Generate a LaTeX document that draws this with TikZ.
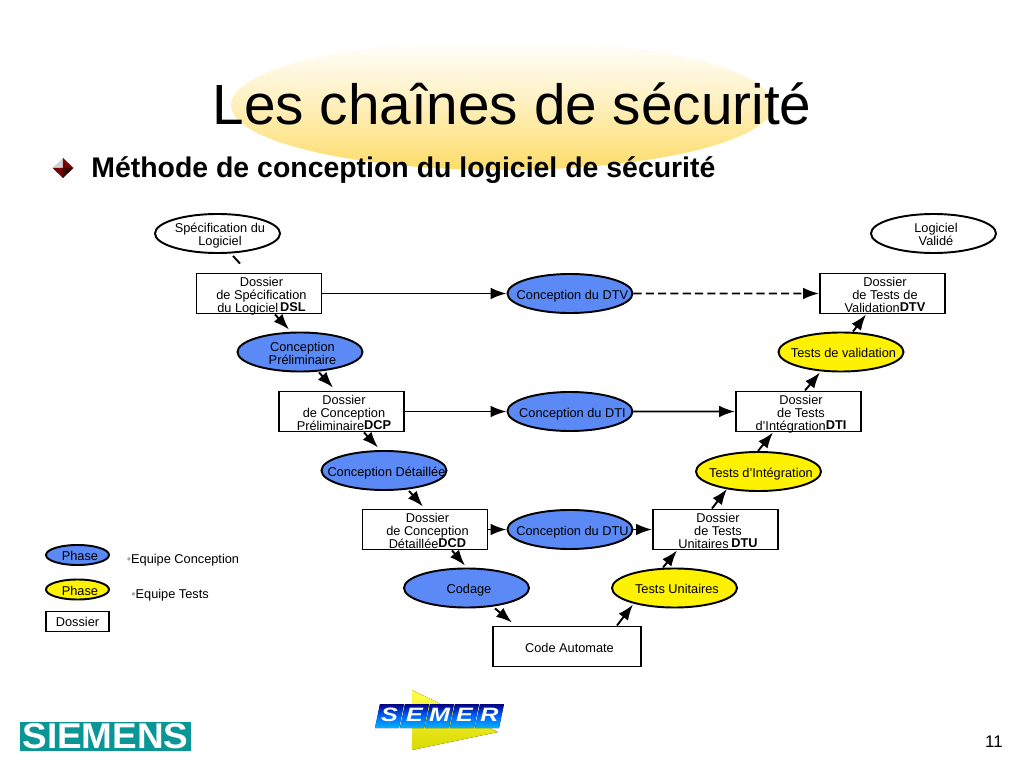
\documentclass[tikz,border=0pt]{standalone}
\usepackage{fontspec}
\setmainfont{Liberation Sans}
\usetikzlibrary{arrows.meta,positioning,calc,shapes.geometric}
\definecolor{phaseblue}{RGB}{91,137,245}
\definecolor{halogold}{RGB}{253,220,105}
\definecolor{siemensteal}{RGB}{10,150,150}
\tikzset{
	on grid,
	flow/.style = {-{Latex[length=9pt,width=6.6pt]}, line width=1.1pt},
	flowdash/.style = {flow, dash pattern=on 4.6pt off 2.4pt},
	dossier/.style = {rectangle, draw, line width=1.1pt, fill=white, inner sep=0pt, minimum width=2.5cm, minimum height=.8cm, align=center, font=\fontsize{7.27}{7.37}\selectfont},
	phase/.style = {ellipse, draw, line width=1.1pt, fill=phaseblue, inner sep=0pt, minimum width=2.5cm, minimum height=.78cm, align=center, font=\fontsize{7.27}{7.37}\selectfont},
	tests/.style = {phase, fill=yellow},
	jalon/.style = {phase, fill=white},
	legend/.style = {font=\fontsize{7.27}{7.37}\selectfont, inner sep=0pt}
}
\newcommand{\ltx}[1]{\makebox[0pt]{\hspace{2.8pt}\raisebox{-1.3pt}[.72em][.2em]{#1}}}
\newcommand{\sigle}[1]{\raisebox{.4pt}{\bfseries #1}}
\begin{document}
\begin{tikzpicture}
	\useasboundingbox (0,0) rectangle (20.48,-15.36);
	% en-tete
	\node[ellipse, minimum width=10.84cm, minimum height=2.6cm, inner sep=0pt, top color=white, bottom color=halogold, middle color=halogold!45] (halo) at (10.04,-2.1) {};
	\node[anchor=base, inner sep=0pt, font=\fontsize{32.27}{34}\selectfont] (titre) at (10.24,-2.5) {Les chaînes de sécurité};
	\node[anchor=base west, inner sep=0pt, font=\fontsize{16.18}{18}\selectfont\bfseries] (soustitre) at (1.82,-3.56) {Méthode de conception du logiciel de sécurité};
	\fill[gray!35] (1.05,-3.36) -- (1.26,-3.16) -- (1.26,-3.36) -- cycle;
	\fill[red!50!black] (1.26,-3.16) -- (1.47,-3.36) -- (1.26,-3.36) -- cycle;
	\fill[red!45!black] (1.05,-3.36) -- (1.26,-3.36) -- (1.26,-3.56) -- cycle;
	\fill[red!20!black] (1.26,-3.36) -- (1.47,-3.36) -- (1.26,-3.56) -- cycle;
	% branche conception
	\node[jalon] (spec) at (4.35,-4.67) {\ltx{Spécification du}\\ \ltx{Logiciel}};
	\node[dossier] (dsl) [below right=1.2 and .83 of spec] {\ltx{Dossier}\\ \ltx{de Spécification}\\ \ltx{du Logiciel\hspace{1pt}\sigle{DSL}}};
	\node[phase] (cp) [below right=1.17 and .82 of dsl] {\ltx{Conception}\\ \ltx{Préliminaire}};
	\node[dossier] (dcp) [below right=1.19 and .83 of cp] {\ltx{Dossier}\\ \ltx{de Conception}\\ \ltx{Préliminaire\sigle{DCP}}};
	\node[phase] (cd) [below right=1.18 and .85 of dcp] {\ltx{Conception Détaillée}};
	\node[dossier] (dcd) [below right=1.18 and .82 of cd] {\ltx{Dossier}\\ \ltx{de Conception}\\ \ltx{Détaillée\sigle{DCD}}};
	\node[phase] (cod) [below right=1.17 and .83 of dcd] {\ltx{Codage}};
	\node[dossier, minimum width=2.96cm] (code) [below right=1.17 and 2.01 of cod] {\ltx{Code Automate}};
	% branche tests
	\node[tests] (tu) [above right=1.17 and 2.15 of code] {\ltx{Tests Unitaires}};
	\node[dossier] (dtu) [above right=1.17 and .82 of tu] {\ltx{Dossier}\\ \ltx{de Tests}\\ \ltx{Unitaires\hspace{1.5pt}\sigle{DTU}}};
	\node[tests] (ti) [above right=1.16 and .86 of dtu] {\ltx{Tests d'Intégration}};
	\node[dossier] (dti) [above right=1.20 and .80 of ti] {\ltx{Dossier}\\ \ltx{de Tests}\\ \ltx{d'Intégration\sigle{DTI}}};
	\node[tests] (tv) [above right=1.19 and .85 of dti] {\ltx{Tests de validation}};
	\node[dossier] (dtv) [above right=1.17 and .83 of tv] {\ltx{Dossier}\\ \ltx{de Tests de}\\ \ltx{Validation\sigle{DTV}}};
	\node[jalon] (lv) [above right=1.2 and 1.02 of dtv] {\ltx{Logiciel}\\ \ltx{Validé}};
	% colonne centrale
	\node[phase] (cdtv) [right=6.22 of dsl] {\ltx{Conception du DTV}};
	\node[phase] (cdti) [right=4.57 of dcp] {\ltx{Conception du DTI}};
	\node[phase] (cdtu) [right=2.90 of dcd] {\ltx{Conception du DTU}};
	\draw[line width=1.1pt] ($(spec.south)+(.31,-.04)$) -- ($(dsl.north)+(-.38,.18)$);
	\draw[flow] ($(dsl.south)+(.32,0)$) -- ($(cp.north)+(-.22,.04)$);
	\draw[flow] ($(cp.south)+(.38,0)$) -- ($(dcp.north)+(-.17,.06)$);
	\draw[flow] ($(dcp.south)+(.45,0)$) -- ($(cd.north)+(-.12,.05)$);
	\draw[flow] ($(cd.south)+(.5,0)$) -- ($(dcd.north)+(-.04,.04)$);
	\draw[flow] ($(dcd.south)+(.54,0)$) -- ($(cod.north)+(-.03,.04)$);
	\draw[flow] ($(cod.south)+(.57,0)$) -- ($(code.north)+(-1.1,.06)$);
	\draw[flow] ($(code.north)+(1,0)$) -- ($(tu.south)+(-.83,.08)$);
	\draw[flow] ($(tu.north)+(-.23,0)$) -- ($(dtu.south)+(-.77,0)$);
	\draw[flow] ($(dtu.north)+(-.07,0)$) -- ($(ti.south)+(-.63,.06)$);
	\draw[flow] ($(ti.north)+(-.01,0)$) -- ($(dti.south)+(-.51,0)$);
	\draw[flow] ($(dti.north)+(.13,0)$) -- ($(tv.south)+(-.42,0)$);
	\draw[flow] ($(tv.north)+(.24,0)$) -- ($(dtv.south)+(-.33,0)$);
	\draw[flow] (dsl) -- (cdtv);
	\draw[flowdash] (cdtv) -- (dtv);
	\draw[flow] (dcp) -- (cdti);
	\draw[flow] (cdti) -- (dti);
	\draw[flow] (dcd) -- (cdtu);
	\draw[flow] (cdtu) -- (dtu);
	% legende
	\node[phase, minimum width=1.26cm, minimum height=.4cm] (legbleu) at (1.55,-11.1) {\ltx{Phase}};
	\node[tests, minimum width=1.26cm, minimum height=.4cm] (legjaune) [below=.69 of legbleu] {\ltx{Phase}};
	\node[dossier, minimum width=1.26cm, minimum height=.4cm] (legdossier) [below=.64 of legjaune] {\raisebox{-1.3pt}{Dossier}};
	\node[legend, anchor=west] (eqconc) at (2.53,-11.2) {{\color{gray!70}\scriptsize•}Equipe Conception};
	\node[legend, anchor=west] (eqtest) at (2.62,-11.9) {{\color{gray!70}\scriptsize•}Equipe Tests};
	% logos
	\node[rectangle, fill=siemensteal, minimum width=3.42cm, minimum height=.58cm, inner sep=0pt] (siemens) at (2.11,-14.73) {};
	\node[text=white, inner sep=0pt, font=\bfseries] (siemenstxt) at (siemens) {\resizebox{3.32cm}{.5cm}{SIEMENS}};
	\fill[top color=yellow!70!white, bottom color=yellow!85!black] (8.24,-13.8) -- (9.96,-14.64) -- (8.24,-15) -- cycle;
	\foreach \ch [count=\i from 0] in {S,E,M,E,R} {
		\fill[top color=blue!50!black, bottom color=cyan!70!blue, middle color=blue!60!cyan] ({7.6+.5*\i},-14.08) -- ({8.08+.5*\i},-14.08) -- ({7.98+.5*\i},-14.56) -- ({7.5+.5*\i},-14.56) -- cycle;
		\node[text=white, inner sep=0pt, font=\fontsize{11}{11}\selectfont\bfseries\itshape] (semer\i) at ({7.79+.5*\i},-14.3) {\scalebox{1.3}[1]{\ch}};
	}
	\node[anchor=east, inner sep=0pt, font=\fontsize{9.6}{10}\selectfont] (numero) at (20.06,-14.84) {11};
\end{tikzpicture}
\end{document}
